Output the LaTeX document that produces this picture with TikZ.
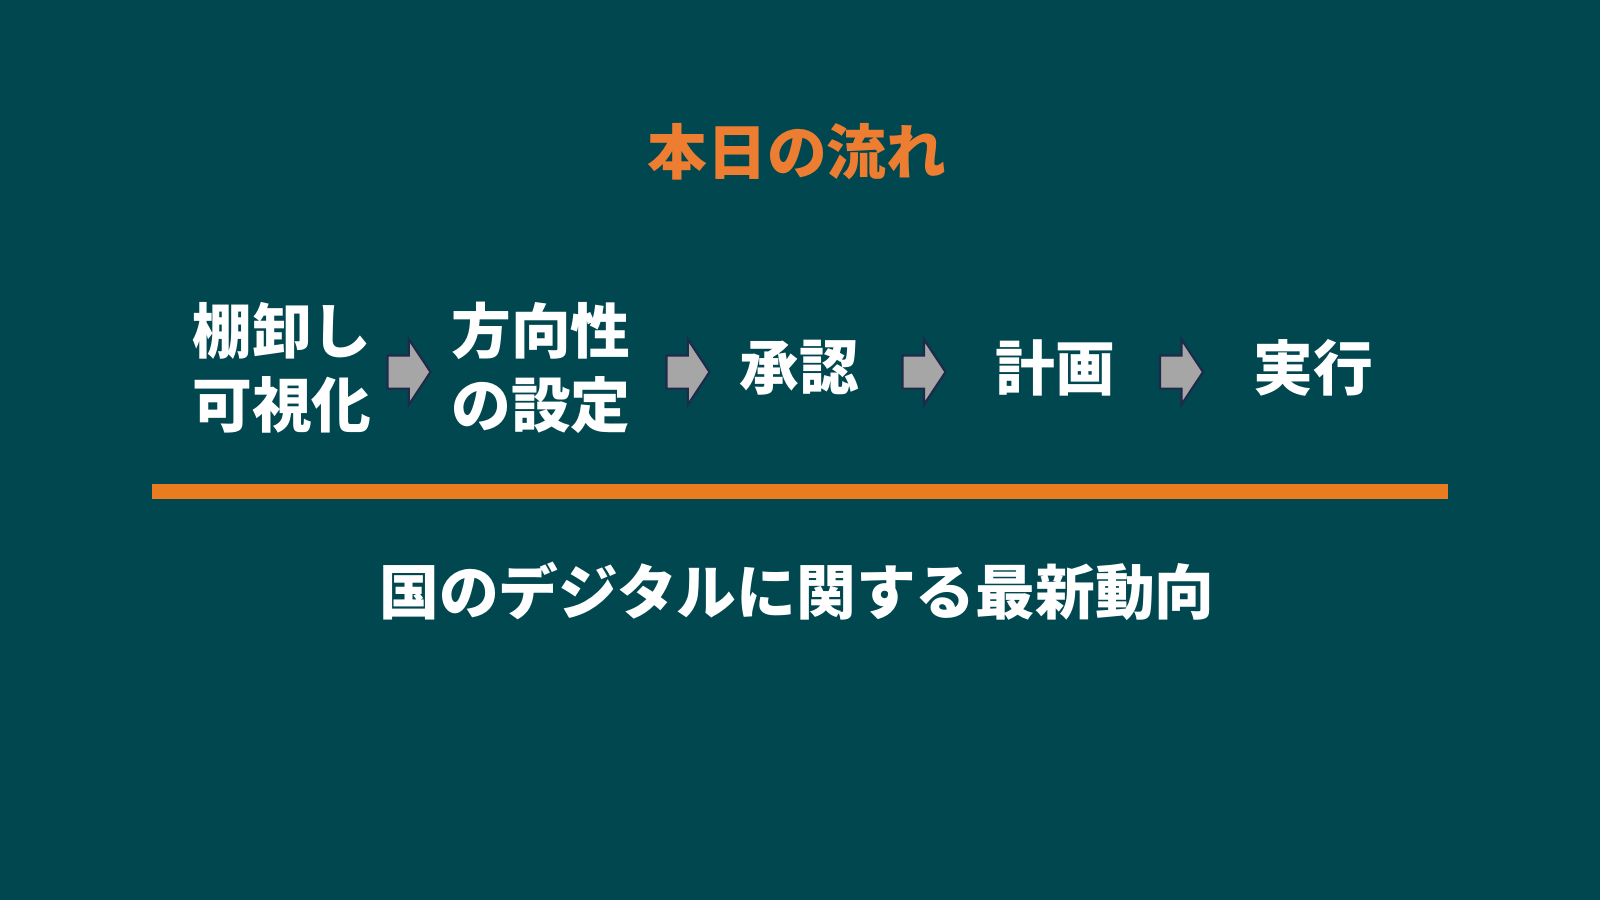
\documentclass[tikz,border=0pt]{standalone}
\usepackage{fontspec}
\setmainfont{Noto Sans CJK JP}
\usetikzlibrary{shapes.arrows}
\definecolor{slidebg}{HTML}{004750}
\definecolor{titleorange}{HTML}{ED7D31}
\definecolor{barorange}{HTML}{E97C1F}
\definecolor{arrowgray}{HTML}{A6A6A6}
\definecolor{arrowedge}{HTML}{1F2A4A}

\begin{document}
\begin{tikzpicture}[ font=\bfseries\fontsize{17}{21}\selectfont,
  step box/.style={text=white, align=center, inner sep=0pt},
  title/.style={text=titleorange, inner sep=0pt},
  flow arrow/.style={shape=single arrow, draw=arrowedge, fill=arrowgray, line width=0.6pt,
    inner xsep=0pt, inner ysep=0.155cm, minimum height=0.43cm,
    single arrow head extend=0.16cm, single arrow tip angle=113},
  ]
  \fill[slidebg] (0,0) rectangle (16,9);
  \useasboundingbox (0,0) rectangle (16,9);

  \node (title) [title] at (7.97,7.48) {本日の流れ};

  \node (inventory) [step box] at (2.82,5.32) {棚卸し\\可視化};
  \node (direction) [step box] at (5.41,5.32) {方向性\\の設定};
  \node (approval)  [step box] at (7.99,5.32) {承認};
  \node (plan)      [step box] at (10.55,5.32) {計画};
  \node (execution) [step box] at (13.13,5.32) {実行};

  % block arrows between the steps
  \node (arrow 1) [flow arrow] at (4.035,5.28) {};
  \node (arrow 2) [flow arrow] at (6.825,5.28) {};
  \node (arrow 3) [flow arrow] at (9.185,5.28) {};
  \node (arrow 4) [flow arrow] at (11.76,5.28) {};

  \fill[barorange] (1.52,4.01) rectangle (14.48,4.16);

  \node (topic) [step box] at (7.97,3.09) {国のデジタルに関する最新動向};
\end{tikzpicture}
\end{document}
